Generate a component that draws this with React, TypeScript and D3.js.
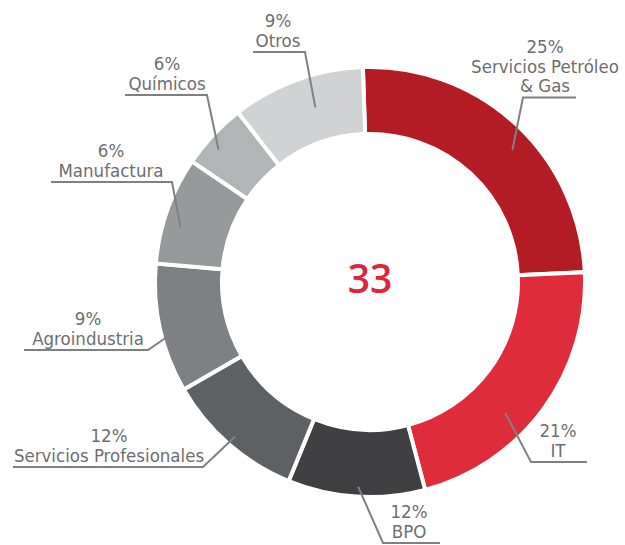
import React from "react";
import * as d3 from "d3";

const categories = [
  "Servicios Petróleo & Gas",
  "IT",
  "BPO",
  "Servicios Profesionales",
  "Agroindustria",
  "Manufactura",
  "Químicos",
  "Otros",
];
const nameLines = [
  ["Servicios Petróleo", "& Gas"],
  ["IT"],
  ["BPO"],
  ["Servicios Profesionales"],
  ["Agroindustria"],
  ["Manufactura"],
  ["Químicos"],
  ["Otros"],
];
const percentLabels = ["25%", "21%", "12%", "12%", "9%", "6%", "6%", "9%"];
const sliceShares = [24.8, 21.6, 10.3, 10.5, 9.7, 8.1, 5.0, 10.0];
const centerValue = "33";

const sliceColors = [
  "#b31c24",
  "#df2c3b",
  "#404042",
  "#5f6063",
  "#7f8083",
  "#98999b",
  "#b3b4b6",
  "#d1d2d4",
];

// label placement: text centre, first baseline, underline span, leader side,
// leader end radius and position within the slice (0..1)
const labelLayout = [
  { cx: 545, y: 53, ux: [523, 576], side: "left", r: 194, t: 0.55 },
  { cx: 558, y: 437, ux: [531, 587], side: "left", r: 188, t: 0.6 },
  { cx: 409, y: 518, ux: [383, 440], side: "left", r: 205, t: 0.49 },
  { cx: 109, y: 442, ux: [13, 203], side: "right", r: 205, t: 0.5 },
  { cx: 88, y: 325, ux: [24, 148], side: "right", r: 212, t: 0.42 },
  { cx: 111, y: 157, ux: [51, 172], side: "right", r: 197, t: 0.38 },
  { cx: 167, y: 70, ux: [125, 207], side: "right", r: 201, t: 0.39 },
  { cx: 278, y: 27, ux: [253, 305], side: "right", r: 183, t: 0.57 },
];

const width = 625;
const height = 545;
const cx = 370;
const cy = 282;
const outerR = 215;
const innerR = 148;
const startAngle = (-1.9 * Math.PI) / 180;
const lineH = 19.5;
const textColor = "#6d6e71";
const font = "'DejaVu Sans Condensed', 'DejaVu Sans', sans-serif";

export default function App() {
  const pie = d3
    .pie<number>()
    .sort(null)
    .startAngle(startAngle)
    .endAngle(startAngle + 2 * Math.PI);
  const arcs = pie(sliceShares);
  const arc = d3.arc<d3.PieArcDatum<number>>().innerRadius(innerR).outerRadius(outerR);

  return (
    <svg
      width={width}
      height={height}
      style={{ position: "absolute", left: 0, top: 0, background: "#fff" }}
    >
      <g transform={`translate(${cx},${cy})`}>
        {arcs.map((a, i) => (
          <path
            key={categories[i]}
            d={arc(a) || ""}
            fill={sliceColors[i]}
            stroke="#fff"
            strokeWidth={4}
          />
        ))}
      </g>
      {arcs.map((a, i) => {
        const L = labelLayout[i];
        const ang = a.startAngle + L.t * (a.endAngle - a.startAngle);
        const px = cx + L.r * Math.sin(ang);
        const py = cy - L.r * Math.cos(ang);
        const lines = [percentLabels[i], ...nameLines[i]];
        const uy = L.y + (lines.length - 1) * lineH + 5.5;
        const sx = L.side === "left" ? L.ux[0] : L.ux[1];
        return (
          <g key={"lab" + i}>
            {lines.map((t, j) => (
              <text
                key={j}
                x={L.cx}
                y={L.y + j * lineH}
                textAnchor="middle"
                fontFamily={font}
                fontSize={18.5}
                fill={textColor}
              >
                {t}
              </text>
            ))}
            <polyline
              points={`${L.ux[0]},${uy} ${L.ux[1]},${uy} ${sx},${uy} ${px},${py}`}
              fill="none"
              stroke="#808080"
              strokeWidth={2}
            />
          </g>
        );
      })}
      <text
        x={cx}
        y={cy + 11}
        textAnchor="middle"
        fontFamily="'Open Sans', sans-serif"
        fontWeight={600}
        fontSize={39}
        fill="#e0253a"
      >
        {centerValue}
      </text>
    </svg>
  );
}
